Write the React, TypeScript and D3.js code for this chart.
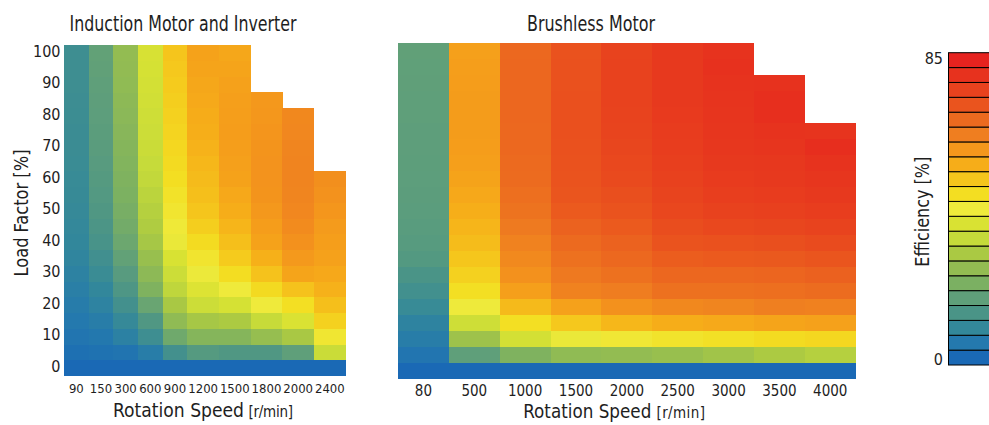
import React from "react";
import * as d3 from "d3";

// load factor rows (%) and labelled ticks
const loadLevels = [0, 5, 10, 15, 20, 25, 30, 35, 40, 45, 50, 55, 60, 65, 70, 75, 80, 85, 90, 95, 100];
const loadTicks = [0, 10, 20, 30, 40, 50, 60, 70, 80, 90, 100];

// Induction motor + inverter: efficiency [%] per speed, from load 0 upward
const inductionSpeeds = ["90", "150", "300", "600", "900", "1200", "1500", "1800", "2000", "2400"];
const inductionEff = [
  [0, 1.8, 3.3, 4.3, 5.2, 6, 6.8, 7.6, 8.2, 8.6, 9, 9.3, 9.5, 9.8, 10, 10, 10.2, 10.3, 10.5, 10.5, 10.5],
  [0, 2.3, 4, 5.5, 7, 8.3, 9.8, 11, 12.3, 13.2, 14, 14.5, 15, 15.5, 16, 16.2, 16.5, 16.8, 17, 17.3, 17.5],
  [0, 3, 6.5, 9, 11.5, 13.5, 15.5, 17.5, 19, 20, 20.8, 21.5, 22, 22.5, 23, 23.5, 24, 24.5, 25, 25.3, 25.5],
  [0, 5.5, 10.5, 14, 18.5, 22, 24.5, 26.5, 29, 30.5, 31.5, 32.5, 33.5, 34.3, 35, 35.5, 36, 36.5, 37, 37.5, 37.8],
  [0, 11.5, 19.5, 25, 29.5, 33, 35.5, 38, 41.5, 43, 44.3, 45.5, 46.8, 47.5, 48, 48.5, 49, 49.5, 50, 50.5, 51],
  [0, 15, 23, 29, 35.5, 39, 42, 44.5, 47.3, 49.5, 51, 52, 52.8, 53.5, 54.3, 55, 55.5, 56, 56.5, 57, 57.3],
  [0, 14, 23, 30, 37.5, 42.5, 47, 50, 52, 53.8, 55.3, 56.3, 57.3, 57.8, 58.2, 58.3, 58.2, 58, 57.5, 57, 56.5],
  [0, 14, 26, 34.5, 42.5, 47.5, 51.5, 54.8, 57.3, 58.3, 59.3, 60, 60.2, 60.2, 60, 59.8, 59.5, 59.3],
  [0, 17, 29.5, 38.5, 46.5, 51.5, 57, 59.2, 60.6, 61.5, 62.2, 62.6, 62.8, 62.8, 62.6, 62.3, 62],
  [0, 35, 44, 49, 52, 54.5, 56.3, 57.5, 58.2, 58.8, 59.6, 60.3, 60.8],
];

// Brushless motor: efficiency [%] per speed, from load 0 upward
const brushlessSpeeds = ["80", "500", "1000", "1500", "2000", "2500", "3000", "3500", "4000"];
const brushlessEff = [
  [0, 3.3, 5.5, 7.2, 9.5, 11.2, 12.8, 14.6, 15.4, 15.8, 16.1, 16.3, 16.5, 16.6, 16.7, 16.8, 16.9, 17, 17.1, 17.2, 17.3],
  [0, 17, 27.5, 36, 42.3, 46.5, 49, 50.8, 52.6, 53.8, 55, 56.2, 57.2, 58, 58.3, 58.5, 58.5, 58.5, 58.4, 58.2, 57.8],
  [0, 22, 37, 46.5, 53, 58, 60.5, 61.8, 63, 64.5, 66, 67, 67.8, 68, 68.3, 68.4, 68.5, 68.5, 68.5, 68.5, 68.3],
  [0, 25, 41.5, 50.5, 57.5, 63, 64.8, 66.5, 68, 69.5, 71, 72, 72.5, 72.8, 73, 73.2, 73.2, 73.2, 73, 73, 72.8],
  [0, 25.5, 43.5, 53.5, 60.5, 64, 66.5, 68.3, 69.5, 71, 72.5, 73.5, 74.5, 75.2, 75.6, 76, 76.3, 76.5, 76.5, 76.5, 76.3],
  [0, 26.5, 45, 55.2, 62, 66.5, 68.5, 70.5, 72.5, 74, 75.3, 76, 76.8, 77.3, 77.8, 78.2, 78.5, 78.8, 79, 79, 79],
  [0, 28, 46, 56, 62.5, 66.5, 68.5, 71, 73, 75, 76.5, 77.5, 78.3, 78.8, 79.3, 79.7, 80, 80.2, 80.5, 81, 80.5],
  [0, 30, 47.3, 57, 63.5, 67, 69, 71.2, 73.5, 75.5, 77, 78, 78.8, 79.2, 80, 80.5, 81.5, 81.5, 80.8],
  [0, 31.5, 48, 57.5, 63.2, 67.5, 69.7, 72, 74.3, 76.3, 77.8, 79, 79.8, 80.5, 82, 80.3],
];

// colour bar: 21 steps, 0 -> 85 %
const effMax = 85;
const effTicks = [0, 85];
const palette = [
  "#1a69b5", "#2479ae", "#33889a", "#4a9487", "#5f9f7a", "#7bb062", "#93bc52",
  "#aac943", "#c5da3a", "#d9e233", "#efea3b", "#f3de22", "#f5c51c", "#f6ad19",
  "#f4971c", "#ef7e20", "#ec6a1f", "#ea541e", "#e8421e", "#e7321e", "#e6231f",
];

const FONT = "'Liberation Sans Narrow', 'DejaVu Sans Condensed', Roboto, sans-serif";
const INK = "#1e1e1e";

const color = d3
  .scaleLinear<string>()
  .domain(palette.map((_, i) => (i * effMax) / (palette.length - 1)))
  .range(palette)
  .interpolate(d3.interpolateRgb)
  .clamp(true);

function Heatmap({ eff, colX, colW, y }) {
  return (
    <g shapeRendering="crispEdges">
      {eff.map((col, i) =>
        col.map((v, j) => (
          <rect
            key={i + "-" + j}
            x={colX(i)}
            y={y(loadLevels[j])}
            width={colW(i) + 0.4}
            height={y.bandwidth() + 0.4}
            fill={color(v)}
          />
        ))
      )}
    </g>
  );
}

export default function App() {
  // left panel: first five speed columns are narrower than the rest
  const xL = d3.scaleLinear().domain([0, 5, 10]).range([64, 187.3, 345.7]);
  const yL = d3.scaleBand<number>().domain([...loadLevels].reverse()).range([45, 375.7]);

  const xR = d3.scaleBand<string>().domain(brushlessSpeeds).range([398, 855.7]);
  const yR = d3.scaleBand<number>().domain([...loadLevels].reverse()).range([43, 378.3]);

  const binIdx = palette.map((_, i) => i);
  const yC = d3.scaleBand<number>().domain([...binIdx].reverse()).range([52.7, 365]);
  const yCv = d3.scaleLinear().domain([0, effMax]).range([365, 52.7]);

  return (
    <svg
      width={989}
      height={425}
      style={{ position: "absolute", left: 0, top: 0, background: "#fff" }}
      fontFamily={FONT}
      fill={INK}
    >
      {/* titles */}
      <text x={183} y={31} fontSize={22} textAnchor="middle" textLength={227} lengthAdjust="spacingAndGlyphs">
        Induction Motor and Inverter
      </text>
      <text x={591} y={31} fontSize={22} textAnchor="middle" textLength={128} lengthAdjust="spacingAndGlyphs">
        Brushless Motor
      </text>

      {/* left heatmap */}
      <Heatmap eff={inductionEff} colX={(i) => xL(i)} colW={(i) => xL(i + 1) - xL(i)} y={yL} />
      {loadTicks.map((t) => (
        <text key={t} x={60.5} y={yL(t) + yL.bandwidth() / 2 + 4} fontSize={16} textAnchor="end">
          {t}
        </text>
      ))}
      {inductionSpeeds.map((s, i) => (
        <text key={s} x={(xL(i) + xL(i + 1)) / 2} y={392.7} fontSize={13} textAnchor="middle">
          {s}
        </text>
      ))}
      <text
        transform="translate(28,213) rotate(-90)"
        fontSize={20}
        textAnchor="middle"
        textLength={127}
        lengthAdjust="spacingAndGlyphs"
      >
        Load Factor [%]
      </text>
      <text x={113} y={416.7} fontSize={20} textLength={131} lengthAdjust="spacingAndGlyphs">
        Rotation Speed
      </text>
      <text x={248.5} y={416.7} fontSize={15} textLength={44.5} lengthAdjust="spacing">
        [r/min]
      </text>

      {/* right heatmap */}
      <Heatmap
        eff={brushlessEff}
        colX={(i) => xR(brushlessSpeeds[i])}
        colW={() => xR.bandwidth()}
        y={yR}
      />
      {brushlessSpeeds.map((s) => (
        <text key={s} x={xR(s)! + xR.bandwidth() / 2} y={396} fontSize={15} textAnchor="middle">
          {s}
        </text>
      ))}
      <text x={523.3} y={418} fontSize={20} textLength={128} lengthAdjust="spacingAndGlyphs">
        Rotation Speed
      </text>
      <text x={656.5} y={418} fontSize={15} textLength={48.5} lengthAdjust="spacing">
        [r/min]
      </text>

      {/* colour bar */}
      <g>
        {binIdx.map((k) => (
          <rect
            key={k}
            x={948.5}
            y={yC(k)}
            width={50}
            height={yC.bandwidth()}
            fill={palette[k]}
            stroke="#000"
            strokeWidth={1}
          />
        ))}
      </g>
      <text x={943} y={yCv(effTicks[1]) + 11.7} fontSize={16} textAnchor="end">
        {effTicks[1]}
      </text>
      <text x={943} y={yCv(effTicks[0])} fontSize={16} textAnchor="end">
        {effTicks[0]}
      </text>
      <text
        transform="translate(929,211.7) rotate(-90)"
        fontSize={20}
        textAnchor="middle"
        textLength={110}
        lengthAdjust="spacingAndGlyphs"
      >
        Efficiency [%]
      </text>
    </svg>
  );
}
